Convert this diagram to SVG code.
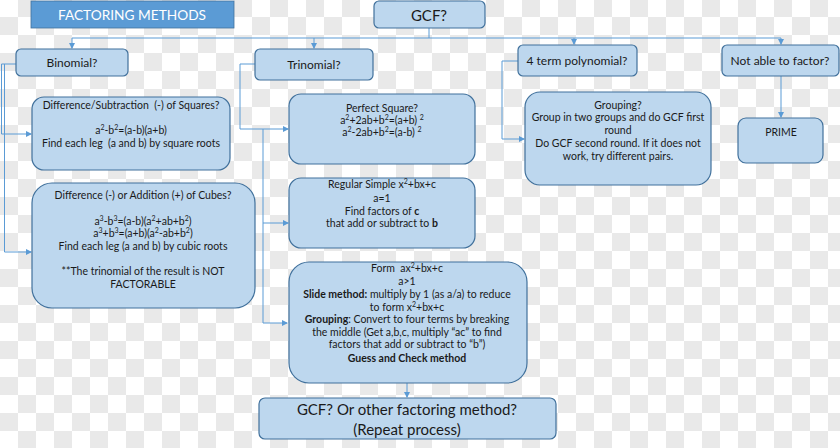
<svg xmlns="http://www.w3.org/2000/svg" width="840" height="448" viewBox="0 0 840 448">
<defs>
<pattern id="chk" width="36" height="36" patternUnits="userSpaceOnUse" y="-1">
<rect width="36" height="36" fill="#ffffff"/>
<rect x="18" y="0" width="18" height="18" fill="#e9e9e9"/>
<rect x="0" y="18" width="18" height="18" fill="#e9e9e9"/>
</pattern>
<marker id="arr" markerWidth="6" markerHeight="6" refX="5" refY="3" orient="auto" markerUnits="userSpaceOnUse">
<path d="M0,0 L6,3 L0,6 z" fill="#5b9bd5"/>
</marker>
</defs>
<style>
.box{fill:#bdd7ee;stroke:#41719c;stroke-width:1.2}
.t{font-family:Lato,"Liberation Sans",sans-serif;font-size:10.5px;fill:#1a1a1a;text-anchor:middle;white-space:pre}
.h{font-family:Lato,"Liberation Sans",sans-serif;font-size:12px;fill:#1a1a1a;text-anchor:middle}
.big{font-family:Lato,"Liberation Sans",sans-serif;font-size:15px;fill:#1a1a1a;text-anchor:middle}
.b{font-weight:bold}
.sup{font-size:7px;baseline-shift:super}
.c{fill:none;stroke:#5b9bd5;stroke-width:1}
</style>
<rect width="840" height="448" fill="url(#chk)"/>

<g id="connectors">
<path class="c" d="M429,28 V38"/>
<path class="c" d="M72,38 H781"/>
<path class="c" d="M72,38 V48" marker-end="url(#arr)"/>
<path class="c" d="M314,38 V48" marker-end="url(#arr)"/>
<path class="c" d="M574,38 V44" marker-end="url(#arr)"/>
<path class="c" d="M781,38 V44" marker-end="url(#arr)"/>
<path class="c" d="M16,64 H1.5 V134 H31" marker-end="url(#arr)"/>
<path class="c" d="M4.5,64 V252 H31" marker-end="url(#arr)"/>
<path class="c" d="M255,64 H240 V129 H288" marker-end="url(#arr)"/>
<path class="c" d="M263,129 V323 H287" marker-end="url(#arr)"/>
<path class="c" d="M263,223 H288" marker-end="url(#arr)"/>
<path class="c" d="M518,61 H502 V139 H524" marker-end="url(#arr)"/>
<path class="c" d="M781,76 V117" marker-end="url(#arr)"/>
<path class="c" d="M407,383 V397" marker-end="url(#arr)"/>
</g>

<g id="title">
<rect x="31" y="1" width="203" height="27" fill="#5b9bd5" stroke="#41719c" stroke-width="0.8"/>
<text x="132" y="20" style="font-family:Lato,'Liberation Sans',sans-serif;font-size:13.7px;fill:#ffffff;text-anchor:middle">FACTORING METHODS</text>
</g>

<g id="gcf">
<rect class="box" x="374" y="1" width="111" height="27" rx="5"/>
<text class="big" x="429" y="20.5">GCF?</text>
</g>

<g id="binomial">
<rect class="box" x="16" y="49" width="112" height="27" rx="5"/>
<text class="h" x="72" y="67">Binomial?</text>
</g>

<g id="trinomial">
<rect class="box" x="255" y="49" width="118" height="31" rx="5"/>
<text class="h" x="314" y="69">Trinomial?</text>
</g>

<g id="fourterm">
<rect class="box" x="518" y="45" width="119" height="31" rx="5"/>
<text class="h" x="577" y="65">4 term polynomial?</text>
</g>

<g id="notable">
<rect class="box" x="722" y="45" width="117" height="31" rx="5"/>
<text class="h" x="780" y="65">Not able to factor?</text>
</g>

<g id="squares">
<rect class="box" x="32" y="97" width="198" height="73" rx="12"/>
<text class="t" x="131" y="109">Difference/Subtraction  (-) of Squares?</text>
<text class="t" x="131" y="134">a<tspan class="sup">2</tspan>-b<tspan class="sup">2</tspan>=(a-b)(a+b)</text>
<text class="t" x="131" y="147">Find each leg  (a and b) by square roots</text>
</g>

<g id="cubes">
<rect class="box" x="32" y="183" width="223" height="125" rx="20"/>
<text class="t" x="143" y="199">Difference (-) or Addition (+) of Cubes?</text>
<text class="t" x="143" y="225">a<tspan class="sup">3</tspan>-b<tspan class="sup">3</tspan>=(a-b)(a<tspan class="sup">2</tspan>+ab+b<tspan class="sup">2</tspan>)</text>
<text class="t" x="143" y="237">a<tspan class="sup">3</tspan>+b<tspan class="sup">3</tspan>=(a+b)(a<tspan class="sup">2</tspan>-ab+b<tspan class="sup">2</tspan>)</text>
<text class="t" x="143" y="250">Find each leg (a and b) by cubic roots</text>
<text class="t" x="143" y="275">**The trinomial of the result is NOT</text>
<text class="t" x="143" y="288">FACTORABLE</text>
</g>

<g id="perfect">
<rect class="box" x="289" y="94" width="186" height="70" rx="12"/>
<text class="t" x="382" y="112">Perfect Square?</text>
<text class="t" x="382" y="124">a<tspan class="sup">2</tspan>+2ab+b<tspan class="sup">2</tspan>=(a+b) <tspan class="sup">2</tspan></text>
<text class="t" x="382" y="136">a<tspan class="sup">2</tspan>-2ab+b<tspan class="sup">2</tspan>=(a-b) <tspan class="sup">2</tspan></text>
</g>

<g id="simple">
<rect class="box" x="289" y="178" width="186" height="70" rx="12"/>
<text class="t" x="382" y="188">Regular Simple x<tspan class="sup">2</tspan>+bx+c</text>
<text class="t" x="382" y="202">a=1</text>
<text class="t" x="382" y="215">Find factors of <tspan class="b">c</tspan></text>
<text class="t" x="382" y="227">that add or subtract to <tspan class="b">b</tspan></text>
</g>

<g id="form">
<rect class="box" x="289" y="262" width="238" height="121" rx="20"/>
<text class="t" x="407" y="272">Form  ax<tspan class="sup">2</tspan>+bx+c</text>
<text class="t" x="407" y="285">a&gt;1</text>
<text class="t" x="407" y="298"><tspan class="b">Slide method:</tspan> multiply by 1 (as a/a) to reduce</text>
<text class="t" x="407" y="311">to form x<tspan class="sup">2</tspan>+bx+c</text>
<text class="t" x="407" y="323"><tspan class="b">Grouping</tspan>: Convert to four terms by breaking</text>
<text class="t" x="407" y="336">the middle (Get a,b,c, multiply “ac” to find</text>
<text class="t" x="407" y="348">factors that add or subtract to “b”)</text>
<text class="t b" x="407" y="362">Guess and Check method</text>
</g>

<g id="grouping">
<rect class="box" x="525" y="92" width="186" height="93" rx="15"/>
<text class="t" x="618" y="109">Grouping?</text>
<text class="t" x="618" y="121">Group in two groups and do GCF first</text>
<text class="t" x="618" y="134">round</text>
<text class="t" x="618" y="147">Do GCF second round. If it does not</text>
<text class="t" x="618" y="160">work, try different pairs.</text>
</g>

<g id="prime">
<rect class="box" x="738" y="118" width="85" height="45" rx="8"/>
<text class="t" x="781" y="136">PRIME</text>
</g>

<g id="repeat">
<rect class="box" x="259" y="398" width="297" height="41" rx="6"/>
<text class="big" x="407" y="415">GCF? Or other factoring method?</text>
<text class="big" x="407" y="435">(Repeat process)</text>
</g>
</svg>
